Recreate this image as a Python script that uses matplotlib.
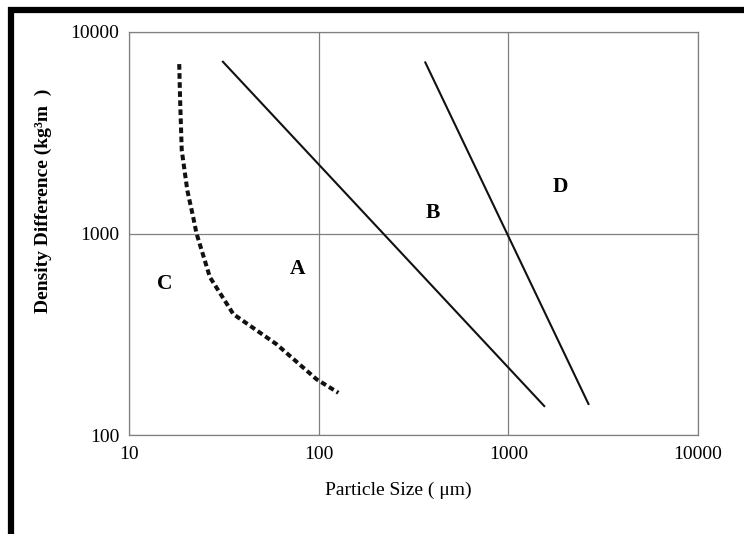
import matplotlib
matplotlib.use('Agg')
import matplotlib.pyplot as plt
from matplotlib.lines import Line2D
from matplotlib.ticker import FixedLocator, NullLocator, FixedFormatter

plt.rcParams['font.family'] = ['Liberation Serif', 'DejaVu Serif']

# ---- data ----
# boundary A/B (solid)
ab_x = [31, 1560]
ab_y = [7180, 138]
# boundary B/D (solid)
bd_x = [363, 2660]
bd_y = [7140, 141]
# boundary C/A (dashed)
ca_x = [18.4, 18.6, 18.97, 20.3, 21.8, 22.7, 26.7, 35.5, 60, 97.5, 127]
ca_y = [6930, 4590, 2590, 1636, 1205, 1000, 607, 398, 282, 189, 162]

# region letters
region_names = ['A', 'B', 'C', 'D']
region_x = [77, 401, 15.5, 1892]
region_y = [670, 1259, 564, 1694]

x_ticks = [10, 100, 1000, 10000]
y_ticks = [100, 1000, 10000]

fig = plt.figure(figsize=(7.44, 5.34), dpi=100)
ax = fig.add_axes([129 / 744, 1 - 435 / 534, 569 / 744, 403 / 534])

ax.set_xscale('log')
ax.set_yscale('log')
ax.set_xlim(10, 10000)
ax.set_ylim(100, 10000)

ax.plot(ab_x, ab_y, color='#111111', lw=1.5, solid_capstyle='butt')
ax.plot(bd_x, bd_y, color='#111111', lw=1.5, solid_capstyle='butt')
ax.plot(ca_x, ca_y, color='#111111', lw=2.9, linestyle=(0, (1.4, 0.85)))

for name, x, y in zip(region_names, region_x, region_y):
    ax.text(x, y, name, ha='center', va='center', fontsize=15.5, fontweight='bold')

ax.xaxis.set_major_locator(FixedLocator(x_ticks))
ax.xaxis.set_major_formatter(FixedFormatter([str(v) for v in x_ticks]))
ax.xaxis.set_minor_locator(NullLocator())
ax.yaxis.set_major_locator(FixedLocator(y_ticks))
ax.yaxis.set_major_formatter(FixedFormatter([str(v) for v in y_ticks]))
ax.yaxis.set_minor_locator(NullLocator())

ax.grid(True, which='major', color='#808080', lw=0.9)
for sp in ax.spines.values():
    sp.set_color('#808080')
    sp.set_linewidth(0.9)
ax.tick_params(length=0, labelsize=14)
ax.tick_params(axis='x', pad=8)
ax.tick_params(axis='y', pad=7)

ax.set_xlabel('Particle Size ( \u03bcm)', fontsize=14)
ax.xaxis.set_label_coords((398 - 129) / 569, -(490 - 435) / 403)
ax.xaxis.label.set_va('center')
ax.set_ylabel('Density Difference (kg\u00b3m  )', fontsize=14, fontweight='bold')
ax.yaxis.set_label_coords((43 - 129) / 569, (435 - 201) / 403)
ax.yaxis.label.set_va('center')
ax.yaxis.label.set_ha('center')

# thick frame on left and top (cropped figure border)
fig.add_artist(Line2D([11 / 744, 11 / 744], [0, 1 - 7 / 534], color='black', lw=4.5,
                      solid_capstyle='butt', transform=fig.transFigure))
fig.add_artist(Line2D([8 / 744, 1], [1 - 10 / 534, 1 - 10 / 534], color='black', lw=4.5,
                      solid_capstyle='butt', transform=fig.transFigure))

fig.savefig('out.png', dpi=100)
